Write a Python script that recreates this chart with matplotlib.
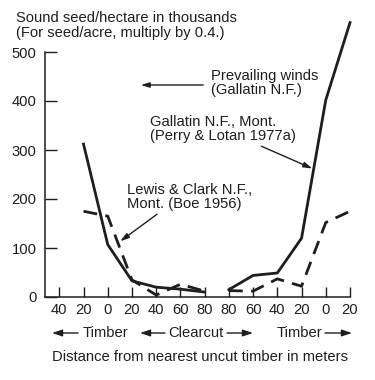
import matplotlib
matplotlib.use("Agg")
import matplotlib.pyplot as plt
import numpy as np

plt.rcParams['font.family'] = ['Liberation Sans', 'DejaVu Sans']

# Data (thousands of sound seed per hectare)
tick_labels = ["40", "20", "0", "20", "40", "60", "80",
               "80", "60", "40", "20", "0", "20"]
# Gallatin N.F. (Perry & Lotan 1977a), two segments split at the clearcut centre
gallatin_left_x = [1, 2, 3, 4, 5, 6]
gallatin_left = [312, 107, 33, 20, 16, 10]
gallatin_right_x = [7, 8, 9, 10, 11, 12]
gallatin_right = [15, 44, 49, 120, 402, 560]
# Lewis & Clark N.F. (Boe 1956)
lewis_left_x = [1, 2, 3, 4, 5, 6]
lewis_left = [175, 165, 35, 4, 26, 12]
lewis_right_x = [7, 8, 9, 10, 11, 12]
lewis_right = [13, 12, 37, 22, 152, 175]

W, H = 375, 380
INK = "#1e1e1e"
FS = 10.6
LS = 1.08


def fp(x, y):
    # figure pixels measured from the top-left corner
    return (x, H - y)


fig = plt.figure(figsize=(W / 100, H / 100), dpi=100)
ax = fig.add_axes([45 / W, 1 - 297 / H, 305 / W, 245 / H])

ax.plot(gallatin_left_x, gallatin_left, color=INK, lw=2.0, clip_on=False)
ax.plot(gallatin_right_x, gallatin_right, color=INK, lw=2.0, clip_on=False)
ax.plot(lewis_left_x, lewis_left, color=INK, lw=2.0, dashes=(5, 3), clip_on=False)
ax.plot(lewis_right_x, lewis_right, color=INK, lw=2.0, dashes=(5, 3), clip_on=False)

ax.set_xlim(-0.59, 12)
ax.set_ylim(0, 500)
ax.set_xticks(range(len(tick_labels)))
ax.set_xticklabels(tick_labels)
ax.set_yticks([0, 100, 200, 300, 400, 500])
ax.tick_params(axis='x', direction='in', length=7.5, width=1.0, pad=4,
               labelsize=FS, colors=INK)
ax.tick_params(axis='y', direction='in', length=8.5, width=1.0, pad=6,
               labelsize=FS, colors=INK)
for s in ("top", "right"):
    ax.spines[s].set_visible(False)
for s in ("left", "bottom"):
    ax.spines[s].set_linewidth(1.1)
    ax.spines[s].set_color(INK)

# y axis title
fig.text(16 / W, 1 - 18 / H, "Sound seed/hectare in thousands",
         fontsize=FS, color=INK, va="center", ha="left")
fig.text(16 / W, 1 - 33 / H, "(For seed/acre, multiply by 0.4.)",
         fontsize=FS, color=INK, va="center", ha="left")

# prevailing winds
fig.text(211 / W, 1 - 83 / H, "Prevailing winds\n(Gallatin N.F.)",
         fontsize=FS, color=INK, va="center", ha="left", linespacing=LS)
ax.annotate("", xy=fp(138, 85), xycoords="figure pixels",
            xytext=fp(206, 85), textcoords="figure pixels",
            arrowprops=dict(arrowstyle="-|>,head_length=0.5,head_width=0.15",
                            color=INK, lw=1.0))

# series labels with pointers
ax.annotate("Gallatin N.F., Mont.\n(Perry & Lotan 1977a)",
            xy=(10.5, (gallatin_right[3] + gallatin_right[4]) / 2),
            xytext=fp(150, 129), textcoords="figure pixels",
            fontsize=FS, color=INK, va="center", ha="left", linespacing=LS,
            arrowprops=dict(arrowstyle="-|>,head_length=0.5,head_width=0.15",
                            color=INK, lw=1.0, shrinkA=0, shrinkB=1,
                            relpos=(0.72, 0.0)))
ax.annotate("Lewis & Clark N.F.,\nMont. (Boe 1956)",
            xy=(2.47, 112),
            xytext=fp(127, 197), textcoords="figure pixels",
            fontsize=FS, color=INK, va="center", ha="left", linespacing=LS,
            arrowprops=dict(arrowstyle="-|>,head_length=0.5,head_width=0.15",
                            color=INK, lw=1.0, shrinkA=0, shrinkB=1,
                            relpos=(0.27, 0.0)))

# zone row under the ticks
arrow = dict(arrowstyle="-|>,head_length=0.6,head_width=0.2", color=INK, lw=1.0,
             shrinkA=0, shrinkB=0)
row_y = 333
for tail, head in [(78, 52), (165, 140), (227, 253), (325, 352)]:
    ax.annotate("", xy=fp(head, row_y), xycoords="figure pixels",
                xytext=fp(tail, row_y), textcoords="figure pixels",
                arrowprops=arrow)
for x, label in [(105.5, "Timber"), (196, "Clearcut"), (299.5, "Timber")]:
    fig.text(x / W, 1 - row_y / H, label, fontsize=FS, color=INK,
             ha="center", va="center")

fig.text(200 / W, 1 - 357 / H, "Distance from nearest uncut timber in meters",
         fontsize=FS, color=INK, ha="center", va="center")

fig.savefig("out.png", dpi=100)
